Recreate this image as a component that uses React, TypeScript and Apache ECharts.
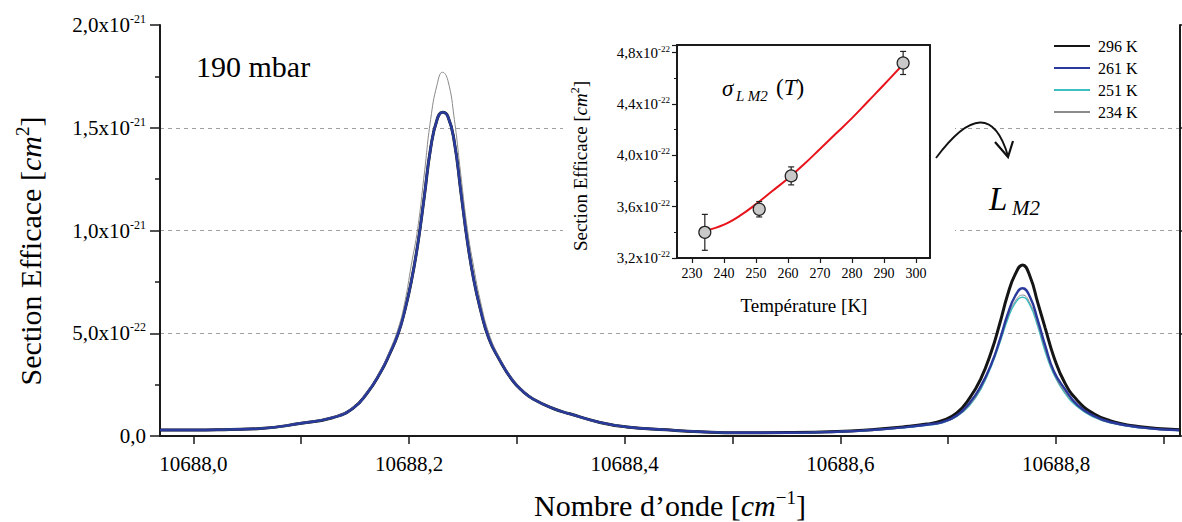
import React, { useEffect, useRef } from 'react';
import * as echarts from 'echarts';

const FONT = 'Liberation Serif, Times New Roman, serif';

// ---- main spectrum (values in 1e-22 cm^2) ----
const wavenumbers = [
  10687.969, 10688.0, 10688.034, 10688.062, 10688.1, 10688.129, 10688.148, 10688.161, 10688.173, 10688.182,
  10688.19, 10688.196, 10688.202, 10688.208, 10688.214, 10688.22, 10688.226, 10688.231, 10688.236, 10688.242,
  10688.248, 10688.254, 10688.26, 10688.266, 10688.274, 10688.284, 10688.296, 10688.306, 10688.315, 10688.333,
  10688.349, 10688.377, 10688.402, 10688.439, 10688.47, 10688.507, 10688.551, 10688.597, 10688.628, 10688.658,
  10688.68, 10688.695, 10688.708, 10688.72, 10688.73, 10688.74, 10688.748, 10688.755, 10688.762, 10688.769,
  10688.776, 10688.783, 10688.79, 10688.798, 10688.808, 10688.82, 10688.835, 10688.85, 10688.878, 10688.915,
];

const sigma296 = [
  0.29, 0.29, 0.32, 0.36, 0.62, 0.89, 1.35, 2.08, 3.05, 4.0,
  5.0, 6.1, 7.5, 9.3, 11.6, 14.0, 15.4, 15.75, 15.55, 14.3,
  11.9, 9.5, 7.6, 6.2, 4.75, 3.7, 2.7, 2.15, 1.8, 1.35,
  1.08, 0.66, 0.44, 0.3, 0.21, 0.16, 0.17, 0.22, 0.31, 0.44,
  0.58, 0.76, 1.12, 1.85, 2.75, 4.1, 5.5, 6.85, 7.85, 8.32,
  7.75, 6.5, 5.25, 3.85, 2.6, 1.72, 1.08, 0.75, 0.45, 0.3,
];

const sigma261 = [
  0.29, 0.29, 0.32, 0.36, 0.62, 0.89, 1.35, 2.08, 3.05, 4.0,
  5.0, 6.1, 7.5, 9.3, 11.6, 14.0, 15.4, 15.75, 15.55, 14.3,
  11.9, 9.5, 7.6, 6.2, 4.75, 3.7, 2.7, 2.15, 1.8, 1.35,
  1.08, 0.66, 0.44, 0.3, 0.21, 0.16, 0.16, 0.21, 0.29, 0.42,
  0.55, 0.68, 1.0, 1.62, 2.4, 3.5, 4.7, 5.9, 6.8, 7.19,
  6.75, 5.65, 4.4, 3.15, 2.3, 1.5, 0.98, 0.68, 0.42, 0.28,
];

const sigma251 = [
  0.29, 0.29, 0.32, 0.36, 0.62, 0.89, 1.35, 2.08, 3.05, 4.0,
  5.0, 6.1, 7.5, 9.3, 11.6, 14.0, 15.4, 15.75, 15.55, 14.3,
  11.9, 9.5, 7.6, 6.2, 4.75, 3.7, 2.7, 2.15, 1.8, 1.35,
  1.08, 0.66, 0.44, 0.3, 0.21, 0.16, 0.16, 0.21, 0.28, 0.4,
  0.52, 0.66, 0.95, 1.5, 2.25, 3.4, 4.55, 5.65, 6.45, 6.75,
  6.35, 5.35, 4.1, 3.0, 2.1, 1.42, 0.92, 0.64, 0.4, 0.27,
];

const sigma234 = [
  0.29, 0.29, 0.32, 0.37, 0.64, 0.92, 1.4, 2.15, 3.15, 4.15,
  5.25, 6.5, 8.3, 10.1, 12.7, 15.4, 17.1, 17.7, 17.3, 15.4,
  12.7, 10.1, 8.2, 6.6, 5.0, 3.8, 2.78, 2.2, 1.83, 1.36,
  1.08, 0.66, 0.44, 0.3, 0.21, 0.16, 0.16, 0.21, 0.29, 0.41,
  0.53, 0.67, 0.96, 1.52, 2.3, 3.45, 4.6, 5.75, 6.55, 6.86,
  6.45, 5.45, 4.2, 3.05, 2.15, 1.45, 0.94, 0.65, 0.41, 0.27,
];

const seriesNames = ['296 K', '261 K', '251 K', '234 K'];

const xTickValues = [10688.0, 10688.1, 10688.2, 10688.3, 10688.4, 10688.5, 10688.6, 10688.7, 10688.8, 10688.9];
const xLabelValues = [10688.0, 10688.2, 10688.4, 10688.6, 10688.8];
const yTickValues = [0, 5, 10, 15, 20];
const yTickMantissa = ['0,0', '5,0x10', '1,0x10', '1,5x10', '2,0x10'];
const yTickExponent = ['', '-22', '-21', '-21', '-21'];

// ---- inset (values in 1e-22 cm^2) ----
const insetTemps = [234, 251, 261, 296];
const insetSigma = [3.4, 3.58, 3.84, 4.72];
const insetErr = [0.14, 0.06, 0.07, 0.09];
const fitTemps = [234, 240, 245, 250, 255, 260, 265, 270, 275, 280, 285, 290, 296];
const fitSigma = [3.41, 3.46, 3.53, 3.62, 3.72, 3.82, 3.93, 4.05, 4.17, 4.29, 4.42, 4.55, 4.71];
const insetXTicks = [230, 240, 250, 260, 270, 280, 290, 300];
const insetYTicks = [3.2, 3.6, 4.0, 4.4, 4.8];
const insetYMantissa = ['3,2x10', '3,6x10', '4,0x10', '4,4x10', '4,8x10'];

const lineColors = ['#151515', '#2a3a9c', '#3cc0c4', '#8a8a8a'];
const lineWidths = [3, 2.4, 1.5, 1];

function buildOption(): any {
  const mainData = [sigma296, sigma261, sigma251, sigma234];
  const drawOrder = [0, 2, 3, 1];
  const mainSeries = drawOrder.map((k) => ({
    name: seriesNames[k],
    type: 'line',
    xAxisIndex: 0,
    yAxisIndex: 0,
    data: wavenumbers.map((w, i) => [w, mainData[k][i]]),
    showSymbol: false,
    symbol: 'none',
    smooth: 0.5,
    lineStyle: { color: lineColors[k], width: lineWidths[k] },
    itemStyle: { color: lineColors[k] },
    z: 2,
  }));

  const frameLine = { show: true, lineStyle: { color: '#1a1a1a', width: 2 } };
  const tickStyle = { color: '#1a1a1a', width: 1.5 };

  const titleRich = (size: number, sup: number, lh: number) => ({
    r: { fontFamily: FONT, fontSize: size, fill: '#000', lineHeight: lh },
    i: { fontFamily: FONT, fontSize: size, fontStyle: 'italic', fill: '#000', lineHeight: lh },
    s: { fontFamily: FONT, fontSize: sup, fill: '#000', lineHeight: sup, verticalAlign: 'top' },
  });

  return {
    animation: false,
    backgroundColor: '#fff',
    legend: {
      orient: 'vertical',
      left: 1053,
      top: 38,
      padding: 0,
      itemWidth: 36,
      itemHeight: 14,
      itemGap: 6,
      data: seriesNames,
      itemStyle: { opacity: 0 },
      textStyle: { fontFamily: FONT, fontSize: 16, color: '#000', padding: [0, 0, 0, 3] },
    },
    grid: [
      { left: 160, right: 2, top: 25, bottom: 86 },
      { left: 677, right: 252, top: 45, bottom: 264 },
    ],
    xAxis: [
      {
        gridIndex: 0,
        type: 'value',
        position: 'bottom',
        min: 10687.969,
        max: 10688.915,
        axisLine: frameLine,
        axisTick: { show: true, customValues: xTickValues, length: 8, lineStyle: tickStyle },
        axisLabel: {
          customValues: xLabelValues,
          formatter: (v: number) => v.toFixed(1).replace('.', ','),
          margin: 17,
          fontFamily: FONT,
          fontSize: 21,
          color: '#000',
        },
        splitLine: { show: false },
        z: 3,
      },
      {
        gridIndex: 0,
        type: 'value',
        position: 'top',
        min: 10687.969,
        max: 10688.915,
        axisLine: frameLine,
        axisTick: { show: false },
        axisLabel: { show: false },
        splitLine: { show: false },
        z: 3,
      },
      {
        gridIndex: 1,
        type: 'value',
        position: 'bottom',
        min: 225.3,
        max: 304.4,
        axisLine: frameLine,
        axisTick: { show: true, customValues: insetXTicks, length: 5, lineStyle: { color: '#1a1a1a', width: 1.2 } },
        axisLabel: {
          customValues: insetXTicks,
          formatter: (v: number) => String(Math.round(v)),
          margin: 8,
          fontFamily: FONT,
          fontSize: 14,
          color: '#000',
        },
        splitLine: { show: false },
        z: 3,
      },
      {
        gridIndex: 1,
        type: 'value',
        position: 'top',
        min: 225.3,
        max: 304.4,
        axisLine: frameLine,
        axisTick: { show: false },
        axisLabel: { show: false },
        splitLine: { show: false },
        z: 3,
      },
    ],
    yAxis: [
      {
        gridIndex: 0,
        type: 'value',
        position: 'left',
        min: 0,
        max: 20,
        interval: 5,
        axisLine: frameLine,
        axisTick: { show: true, length: 10, lineStyle: tickStyle },
        minorTick: { show: true, splitNumber: 2, length: 5, lineStyle: tickStyle },
        axisLabel: {
          margin: 14,
          formatter: (v: number) => {
            const i = yTickValues.indexOf(Math.round(v));
            if (i < 0) return '';
            return yTickExponent[i] ? `{b|${yTickMantissa[i]}}{s|${yTickExponent[i]}}` : `{b|${yTickMantissa[i]}}`;
          },
          rich: {
            b: { fontFamily: FONT, fontSize: 21, color: '#000', lineHeight: 24 },
            s: { fontFamily: FONT, fontSize: 12, color: '#000', lineHeight: 12, verticalAlign: 'top' },
          },
        },
        splitLine: {
          show: true,
          showMinLine: false,
          showMaxLine: false,
          lineStyle: { color: '#a0a0a0', width: 1, type: [4, 4] },
        },
        z: 0,
      },
      {
        gridIndex: 0,
        type: 'value',
        position: 'right',
        min: 0,
        max: 20,
        interval: 5,
        axisLine: frameLine,
        axisTick: { show: true, length: 6, lineStyle: tickStyle },
        axisLabel: { show: false },
        splitLine: { show: false },
        z: 3,
      },
      {
        gridIndex: 1,
        type: 'value',
        position: 'left',
        min: 3.2,
        max: 4.86,
        interval: 0.4,
        axisLine: frameLine,
        axisTick: { show: true, length: 5, lineStyle: { color: '#1a1a1a', width: 1.2 } },
        minorTick: { show: true, splitNumber: 2, length: 3, lineStyle: { color: '#1a1a1a', width: 1 } },
        axisLabel: {
          margin: 7,
          showMaxLabel: false,
          formatter: (v: number) => {
            const i = insetYTicks.findIndex((t) => Math.abs(t - v) < 1e-6);
            if (i < 0) return '';
            return `{b|${insetYMantissa[i]}}{s|-22}`;
          },
          rich: {
            b: { fontFamily: FONT, fontSize: 15, color: '#000', lineHeight: 17 },
            s: { fontFamily: FONT, fontSize: 9, color: '#000', lineHeight: 9, verticalAlign: 'top' },
          },
        },
        splitLine: { show: false },
        z: 3,
      },
      {
        gridIndex: 1,
        type: 'value',
        position: 'right',
        min: 3.2,
        max: 4.86,
        axisLine: frameLine,
        axisTick: { show: false },
        axisLabel: { show: false },
        splitLine: { show: false },
        z: 3,
      },
    ],
    series: [
      ...mainSeries,
      {
        name: 'fit',
        type: 'line',
        xAxisIndex: 2,
        yAxisIndex: 2,
        data: fitTemps.map((t, i) => [t, fitSigma[i]]),
        showSymbol: false,
        symbol: 'none',
        smooth: 0.4,
        lineStyle: { color: '#e8141c', width: 2 },
        z: 4,
      },
      {
        name: 'err',
        type: 'custom',
        xAxisIndex: 2,
        yAxisIndex: 2,
        encode: { x: 0, y: [1, 2] },
        data: insetTemps.map((t, i) => [t, insetSigma[i] - insetErr[i], insetSigma[i] + insetErr[i]]),
        renderItem: (params: any, api: any) => {
          const x = api.value(0);
          const lo = api.coord([x, api.value(1)]);
          const hi = api.coord([x, api.value(2)]);
          const cap = 3;
          const st = { stroke: '#222', lineWidth: 1.2 };
          return {
            type: 'group',
            children: [
              { type: 'line', shape: { x1: lo[0], y1: lo[1], x2: hi[0], y2: hi[1] }, style: st },
              { type: 'line', shape: { x1: lo[0] - cap, y1: lo[1], x2: lo[0] + cap, y2: lo[1] }, style: st },
              { type: 'line', shape: { x1: hi[0] - cap, y1: hi[1], x2: hi[0] + cap, y2: hi[1] }, style: st },
            ],
          };
        },
        z: 5,
      },
      {
        name: 'points',
        type: 'scatter',
        xAxisIndex: 2,
        yAxisIndex: 2,
        data: insetTemps.map((t, i) => [t, insetSigma[i]]),
        symbol: 'circle',
        symbolSize: 12,
        itemStyle: { color: '#c9c9c9', borderColor: '#222', borderWidth: 1.2, opacity: 1 },
        z: 6,
      },
    ],
    graphic: [
      { type: 'rect', shape: { x: 563, y: 27, width: 392, height: 296 }, style: { fill: '#fff' }, z: 1, silent: true },
      {
        type: 'text',
        x: 196,
        y: 66,
        z: 10,
        style: { text: '190 mbar', font: `30px ${FONT}`, fill: '#000', align: 'left', verticalAlign: 'middle' },
      },
      {
        type: 'text',
        x: 989,
        y: 199,
        z: 10,
        style: { text: 'L', font: `italic 33px ${FONT}`, fill: '#000', align: 'left', verticalAlign: 'middle' },
      },
      {
        type: 'text',
        x: 1012,
        y: 208,
        z: 10,
        style: { text: 'M2', font: `italic 21px ${FONT}`, fill: '#000', align: 'left', verticalAlign: 'middle' },
      },
      {
        type: 'bezierCurve',
        z: 10,
        shape: { x1: 936, y1: 158, cpx1: 988, cpy1: 88, x2: 1008, y2: 156 },
        style: { stroke: '#111', lineWidth: 1.8, fill: 'none' },
      },
      {
        type: 'polyline',
        z: 10,
        shape: { points: [[995, 142], [1008, 157], [1013, 141]] },
        style: { stroke: '#111', lineWidth: 2.2, fill: 'none' },
      },
      {
        type: 'text',
        x: 722,
        y: 88,
        z: 10,
        style: { text: 'σ', font: `italic 23px ${FONT}`, fill: '#000', align: 'left', verticalAlign: 'middle' },
      },
      {
        type: 'text',
        x: 736,
        y: 96,
        z: 10,
        style: { text: 'L M2', font: `italic 15px ${FONT}`, fill: '#000', align: 'left', verticalAlign: 'middle' },
      },
      {
        type: 'text',
        x: 776,
        y: 87,
        z: 10,
        style: {
          text: '{r|(}{i|T}{r|)}',
          align: 'left',
          verticalAlign: 'middle',
          rich: {
            r: { fontFamily: FONT, fontSize: 23, fill: '#000' },
            i: { fontFamily: FONT, fontSize: 23, fontStyle: 'italic', fill: '#000' },
          },
        },
      },
      {
        type: 'text',
        x: 30,
        y: 251,
        rotation: Math.PI / 2,
        z: 10,
        style: {
          text: '{r|Section Efficace [}{i|cm}{s|2}{r|]}',
          align: 'center',
          verticalAlign: 'middle',
          rich: titleRich(30, 19, 34),
        },
      },
      {
        type: 'text',
        x: 670,
        y: 505,
        z: 10,
        style: {
          text: '{r|Nombre d’onde [}{i|cm}{s|−1}{r|]}',
          align: 'center',
          verticalAlign: 'middle',
          rich: titleRich(30, 19, 34),
        },
      },
      {
        type: 'text',
        x: 580,
        y: 166,
        rotation: Math.PI / 2,
        z: 10,
        style: {
          text: '{r|Section Efficace [}{i|cm}{s|2}{r|]}',
          align: 'center',
          verticalAlign: 'middle',
          rich: titleRich(19, 12, 22),
        },
      },
      {
        type: 'text',
        x: 804,
        y: 305,
        z: 10,
        style: { text: 'Température [K]', font: `19px ${FONT}`, fill: '#000', align: 'center', verticalAlign: 'middle' },
      },
    ],
  };
}

export default function App() {
  const ref = useRef<HTMLDivElement>(null);
  useEffect(() => {
    if (!ref.current) return;
    const chart = echarts.init(ref.current, null, { renderer: 'svg' });
    chart.setOption(buildOption());
    return () => {
      chart.dispose();
    };
  }, []);
  return (
    <div
      ref={ref}
      style={{ position: 'fixed', left: 0, top: 0, width: 1182, height: 522, background: '#fff' }}
    />
  );
}
